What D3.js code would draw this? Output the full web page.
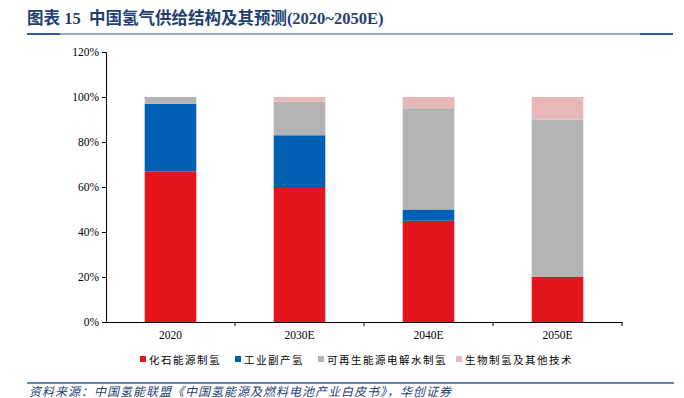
<!DOCTYPE html>
<html>
<head>
<meta charset="utf-8">
<script src="https://cdn.jsdelivr.net/npm/d3@7"></script>
<style>
  body { margin: 0; background: #fff; }
  svg { display: block; }
</style>
</head>
<body>
<div id="chart"></div>
<script>
const years = ['2020', '2030E', '2040E', '2050E']
const seriesNames = ['化石能源制氢', '工业副产氢', '可再生能源电解水制氢', '生物制氢及其他技术']
const fossil = [67, 60, 45, 20]
const industrial = [30, 23, 5, 0]
const renewable = [3, 15, 45, 70]
const bio = [0, 2, 5, 10]
const yTicks = [0, 20, 40, 60, 80, 100, 120]
const colors = ['#e3141c', '#0060b6', '#b3b3b3', '#e8b7b8']

const width = 684, height = 398
const padding = { top: 52, right: 62, bottom: 76, left: 106 }

const svg = d3.select('#chart').append('svg')
    .attr('width', width)
    .attr('height', height)

// title + rules
svg.append('text')
    .attr('x', 27).attr('y', 24)
    .attr('font-family', '"Liberation Serif", "Noto Sans CJK SC", serif')
    .attr('font-weight', 'bold')
    .attr('font-size', 16.5)
    .attr('fill', '#1f3f73')
    .style('white-space', 'pre')
    .text('图表 15  中国氢气供给结构及其预测(2020~2050E)')
svg.append('line').attr('x1', 27).attr('x2', 673).attr('y1', 34).attr('y2', 34)
    .attr('stroke', '#6e8fb8').attr('stroke-width', 1.5)
svg.append('line').attr('x1', 27).attr('x2', 60).attr('y1', 34).attr('y2', 34)
    .attr('stroke', '#2f5c95').attr('stroke-width', 2)
svg.append('line').attr('x1', 640).attr('x2', 673).attr('y1', 34).attr('y2', 34)
    .attr('stroke', '#2f5c95').attr('stroke-width', 2)

const data = years.map((y, i) => ({ year: y, s0: fossil[i], s1: industrial[i], s2: renewable[i], s3: bio[i] }))
const stack = d3.stack().keys(['s0', 's1', 's2', 's3'])(data)

const xOuter = d3.scaleBand().domain(years).range([padding.left, width - padding.right])
const yScale = d3.scaleLinear()
    .domain([0, 120])
    .range([height - padding.bottom, padding.top])

// bars
svg.append('g').selectAll('g')
    .data(stack).join('g')
    .attr('fill', (d, i) => colors[i])
    .selectAll('rect')
    .data(d => d).join('rect')
    .attr('x', d => xOuter(d.data.year) + xOuter.bandwidth() * 0.3)
    .attr('width', xOuter.bandwidth() * 0.4)
    .attr('y', d => yScale(d[1]))
    .attr('height', d => yScale(d[0]) - yScale(d[1]))

// y axis
const yAxis = d3.axisLeft(yScale).tickValues(yTicks).tickFormat(d => d + '%').tickSize(4)
const gy = svg.append('g')
    .attr('transform', 'translate(' + padding.left + ',0)')
    .call(yAxis)
gy.select('.domain').attr('stroke', '#000')
gy.selectAll('text')
    .attr('font-family', '"Liberation Serif", serif')
    .attr('font-size', 11.5).attr('fill', '#000')

// x axis
const gx = svg.append('g')
    .attr('transform', 'translate(0,' + (height - padding.bottom) + ')')
    .call(d3.axisBottom(xOuter).tickSize(0).tickPadding(9))
gx.select('.domain').attr('stroke', '#000')
gx.selectAll('text')
    .attr('font-family', '"Liberation Serif", serif')
    .attr('font-size', 11.5).attr('fill', '#000')
gx.selectAll('.sep')
    .data(years).join('line')
    .attr('class', 'sep')
    .attr('x1', d => xOuter(d) + xOuter.bandwidth())
    .attr('x2', d => xOuter(d) + xOuter.bandwidth())
    .attr('y1', 0).attr('y2', 4)
    .attr('stroke', '#000')

// legend
const legendX = [140, 235, 318, 456]
const legend = svg.append('g').selectAll('g')
    .data(seriesNames).join('g')
    .attr('transform', (d, i) => 'translate(' + legendX[i] + ',360)')
legend.append('rect')
    .attr('x', 0).attr('y', -4).attr('width', 6).attr('height', 6)
    .attr('fill', (d, i) => colors[i])
legend.append('text')
    .attr('x', 9).attr('y', 4)
    .attr('font-family', '"Noto Sans CJK SC", sans-serif')
    .attr('font-size', 10.5)
    .attr('letter-spacing', 1.5)
    .attr('fill', '#000')
    .text(d => d)

// footer
svg.append('line').attr('x1', 27).attr('x2', 674).attr('y1', 383).attr('y2', 383)
    .attr('stroke', '#2f5c95').attr('stroke-width', 1.5)
svg.append('text')
    .attr('x', 29).attr('y', 396)
    .attr('font-family', '"Noto Sans CJK SC", sans-serif')
    .attr('font-style', 'italic')
    .attr('font-size', 12)
    .attr('letter-spacing', 1)
    .attr('fill', '#1f3f73')
    .text('资料来源：中国氢能联盟《中国氢能源及燃料电池产业白皮书》，华创证券')
</script>
</body>
</html>
